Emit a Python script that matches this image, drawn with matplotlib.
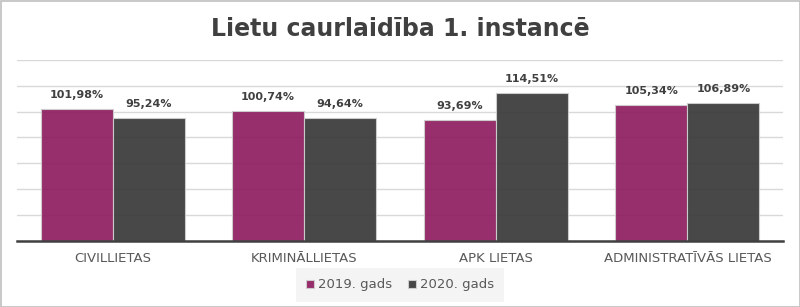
import numpy as np
import matplotlib
matplotlib.use("Agg")
import matplotlib.pyplot as plt
from matplotlib.patches import Rectangle

categories = ["CIVILLIETAS", "KRIMINĀLLIETAS", "APK LIETAS", "ADMINISTRATĪVĀS LIETAS"]
series_names = ["2019. gads", "2020. gads"]
values_2019 = [101.98, 100.74, 93.69, 105.34]
values_2020 = [95.24, 94.64, 114.51, 106.89]

colors = ["#8e1f60", "#3a3a3a"]

plt.rcParams.update({"font.family": "DejaVu Sans"})

fig = plt.figure(figsize=(8, 3.07), dpi=100)
fig.patches.append(
    Rectangle((0.5 / 800, 0.5 / 307), 1 - 1 / 800, 1 - 1 / 307, transform=fig.transFigure,
              fill=False, edgecolor="#bfbfbf", linewidth=1.2)
)
ax = fig.add_axes([0.021, 0.216, 0.958, 0.589])

x = np.arange(len(categories))
width = 0.376

for i, (vals, name) in enumerate(zip([values_2019, values_2020], series_names)):
    offset = (i - 0.5) * width
    bars = ax.bar(x + offset, vals, width, color=colors[i], alpha=0.93,
                  edgecolor="#d0d0d0", linewidth=0.8, label=name, zorder=2)
    for b, v in zip(bars, vals):
        ax.annotate(f"{v:.2f}".replace(".", ",") + "%",
                    (b.get_x() + b.get_width() / 2, v), xytext=(0, 6.5),
                    textcoords="offset points", ha="center", va="bottom",
                    fontsize=8, fontweight="bold", color="#404040")

ax.set_xlim(-0.5, len(categories) - 0.5)
ax.set_ylim(0, 140)
ax.set_yticks(np.arange(0, 141, 20))
ax.set_axisbelow(True)
ax.yaxis.grid(True, color="#d9d9d9", linewidth=1)
ax.tick_params(axis="y", left=False, labelleft=False)
ax.tick_params(axis="x", length=0, pad=8, labelsize=9.5, labelcolor="#595959")
ax.set_xticks(x)
ax.set_xticklabels(categories)
for side in ["top", "left", "right"]:
    ax.spines[side].set_visible(False)
ax.spines["bottom"].set_color("#404040")
ax.spines["bottom"].set_linewidth(1.8)
ax.spines["bottom"].set_zorder(3)

fig.suptitle("Lietu caurlaidība 1. instancē", x=0.5, y=0.945, fontsize=17,
             fontweight="bold", color="#404040")

leg = fig.legend(loc="center", bbox_to_anchor=(0.5, 0.072), ncol=2, frameon=True,
                 fontsize=9.5, handlelength=0.6, handleheight=0.6, handletextpad=0.3,
                 columnspacing=1.2, borderpad=0.5)
leg.get_frame().set_facecolor("#f2f2f2")
leg.get_frame().set_edgecolor("none")
leg.get_frame().set_boxstyle("square")
for t in leg.get_texts():
    t.set_color("#595959")

fig.savefig("out.png", dpi=100)
